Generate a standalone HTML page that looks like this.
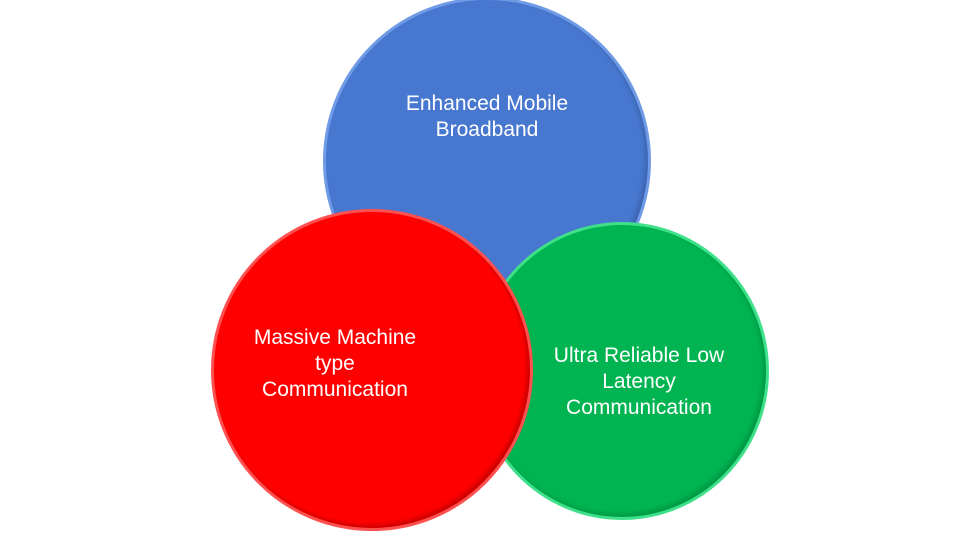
<!DOCTYPE html>
<html><head><style>
html,body{margin:0;padding:0;background:#fff;}
body{width:975px;height:548px;position:relative;overflow:hidden;font-family:"Liberation Sans",sans-serif;}
.c{position:absolute;border-radius:50%;box-sizing:border-box;}
.t{position:absolute;color:#fff;font-size:21px;line-height:26px;text-align:center;}
</style></head><body>
<div class="c" style="left:323px;top:-3px;width:328px;height:328px;background:#4777cf;border:3px solid #6f9be6;box-shadow:inset -3px -3px 4px rgba(0,0,0,0.15);"></div>
<div class="c" style="left:475px;top:222px;width:294px;height:298px;background:#00b451;border:3px solid #3fe08a;box-shadow:inset -3px -3px 4px rgba(0,0,0,0.15);"></div>
<div class="c" style="left:211px;top:209px;width:322px;height:322px;background:#ff0000;border:3px solid #ff5050;box-shadow:inset -3px -3px 4px rgba(0,0,0,0.2);"></div>
<div class="t" style="left:337px;top:91px;width:300px;">Enhanced Mobile<br>Broadband</div>
<div class="t" style="left:185px;top:325px;width:300px;">Massive Machine<br>type<br>Communication</div>
<div class="t" style="left:489px;top:343px;width:300px;">Ultra Reliable Low<br>Latency<br>Communication</div>
</body></html>
